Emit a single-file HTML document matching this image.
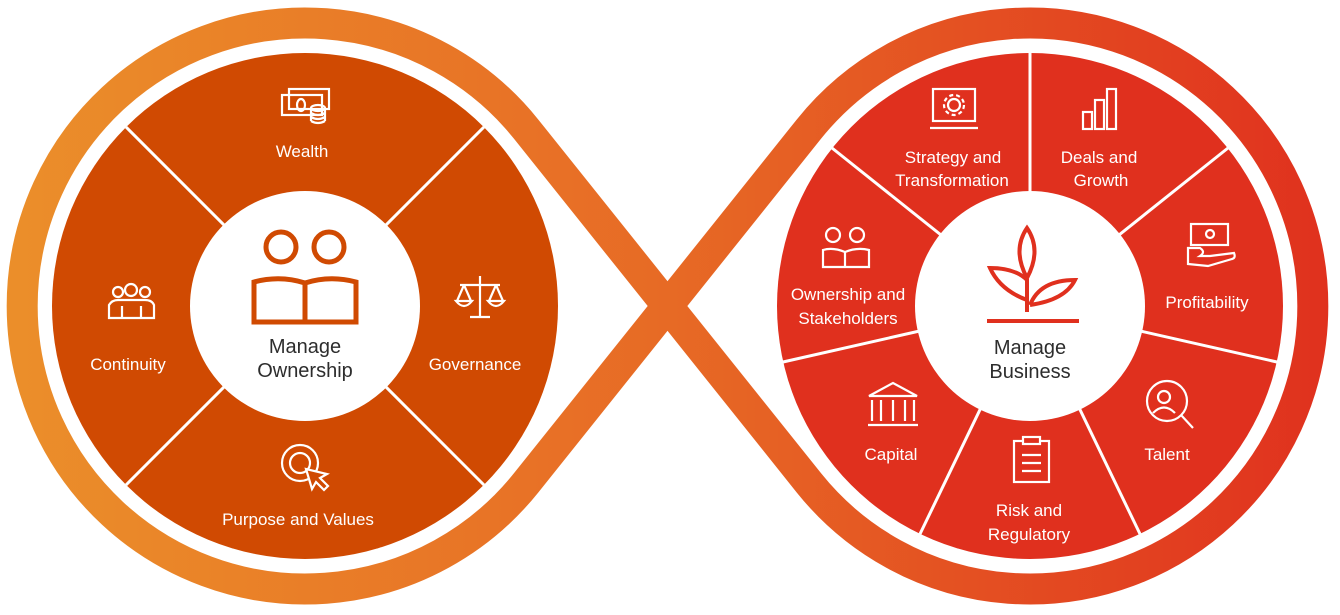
<!DOCTYPE html>
<html><head><meta charset="utf-8"><style>
html,body{margin:0;padding:0;background:#fff;}
svg{display:block;}
text{font-family:"Liberation Sans",Arial,sans-serif;}
.w{fill:#fff;font-size:17px;text-anchor:middle;}
.c{fill:#2d2d2d;font-size:20px;text-anchor:middle;}
.i{fill:none;stroke:#fff;stroke-width:2.2;}
</style></head><body>
<svg width="1340" height="615" viewBox="0 0 1340 615" xmlns="http://www.w3.org/2000/svg">
<defs>
<linearGradient id="g" gradientUnits="userSpaceOnUse" x1="0" y1="0" x2="1340" y2="0">
<stop offset="0" stop-color="#EB8F2A"/><stop offset="0.5" stop-color="#E76A25"/><stop offset="1" stop-color="#E0301E"/>
</linearGradient>
</defs>
<path d="M667.5 306 L526 129 A283 283 0 1 0 526 483 L809 129 A283 283 0 1 1 809 483 Z" fill="none" stroke="url(#g)" stroke-width="31" stroke-linejoin="round"/>
<!-- left disc -->
<circle cx="305" cy="306" r="253" fill="#D04A02"/>
<g stroke="#fff" stroke-width="3">
<line x1="126" y1="127" x2="484" y2="485"/>
<line x1="484" y1="127" x2="126" y2="485"/>
</g>
<circle cx="305" cy="306" r="115" fill="#fff"/>
<!-- right disc -->
<circle cx="1030" cy="306" r="253" fill="#E0301E"/>
<g stroke="#fff" stroke-width="3">
<line x1="1030" y1="306" x2="1030" y2="53"/>
<line x1="1030" y1="306" x2="1228" y2="148"/>
<line x1="1030" y1="306" x2="1277" y2="362"/>
<line x1="1030" y1="306" x2="1140" y2="534"/>
<line x1="1030" y1="306" x2="920" y2="534"/>
<line x1="1030" y1="306" x2="783" y2="362"/>
<line x1="1030" y1="306" x2="832" y2="148"/>
</g>
<circle cx="1030" cy="306" r="115" fill="#fff"/>

<!-- left center icon -->
<g fill="none" stroke="#D04A02" stroke-width="5">
<circle cx="281" cy="247" r="15"/><circle cx="329" cy="247" r="15"/>
<path d="M254 282 Q280 275 305 283 Q330 275 356 282 L356 322 L254 322 Z M305 283 L305 322"/>
</g>
<text class="c" x="305" y="353">Manage</text>
<text class="c" x="305" y="377">Ownership</text>

<!-- right center icon -->
<g fill="none" stroke="#E0301E" stroke-width="4">
<path d="M1027 228 Q1012 250 1027 278 Q1042 250 1027 228 Z"/>
<path d="M1027 312 L1027 280 Q1015 268 990 268 Q1000 290 1027 300"/>
<path d="M1030 305 Q1040 280 1075 280 Q1065 300 1030 305"/>
<line x1="987" y1="321" x2="1079" y2="321"/>
</g>
<text class="c" x="1030" y="354">Manage</text>
<text class="c" x="1030" y="378">Business</text>

<!-- left labels and icons -->
<g class="i"><rect x="289" y="89" width="40" height="20"/><rect x="282" y="95" width="40" height="20"/><ellipse cx="301" cy="105" rx="4" ry="6"/><ellipse cx="318" cy="108" rx="7" ry="3"/><path d="M311 108 V121 M325 108 V121 M311 113 Q318 117 325 113 M311 117 Q318 121 325 117 M311 121 Q318 125 325 121"/></g>
<text class="w" x="302" y="157">Wealth</text>
<g class="i"><circle cx="118" cy="292" r="5"/><circle cx="131" cy="290" r="6"/><circle cx="145" cy="292" r="5"/><path d="M109 318 V305 Q112 300 118 300 L145 300 Q152 300 154 305 V318 Z M122 318 V306 M141 318 V306"/></g>
<text class="w" x="128" y="370">Continuity</text>
<g class="i"><path d="M480 276 V317 M470 317 H490 M460 285 H500 M464 285 L457 301 M464 285 L471 301 M496 285 L489 301 M496 285 L503 301 M456 301 Q464 311 472 301 Z M488 301 Q496 311 504 301 Z"/></g>
<text class="w" x="475" y="370">Governance</text>
<g class="i"><circle cx="300" cy="463" r="18"/><circle cx="300" cy="463" r="10"/><path d="M306 469 L312 489 L316 482 L324 490 L328 486 L320 478 L327 474 Z" fill="#D04A02"/></g>
<text class="w" x="298" y="525">Purpose and Values</text>

<!-- right labels and icons -->
<g class="i"><rect x="933" y="89" width="42" height="32"/><path d="M930 128 H978"/><circle cx="954" cy="105" r="6"/><circle cx="954" cy="105" r="10" stroke-dasharray="4 3"/></g>
<text class="w" x="953" y="163">Strategy and</text>
<text class="w" x="952" y="186">Transformation</text>
<g class="i"><rect x="1083" y="112" width="9" height="17"/><rect x="1095" y="100" width="9" height="29"/><rect x="1107" y="89" width="9" height="40"/></g>
<text class="w" x="1099" y="163">Deals and</text>
<text class="w" x="1101" y="186">Growth</text>
<g class="i"><rect x="1191" y="224" width="37" height="21"/><circle cx="1210" cy="234" r="4"/><path d="M1188 248 H1200 Q1206 252 1200 256 H1210 L1234 253 Q1236 258 1232 259 L1208 266 L1188 264 Z"/></g>
<text class="w" x="1207" y="308">Profitability</text>
<g class="i"><circle cx="833" cy="235" r="7"/><circle cx="857" cy="235" r="7"/><path d="M823 250 Q833 247 845 252 Q857 247 869 250 V267 H823 Z M845 252 V267"/></g>
<text class="w" x="848" y="300">Ownership and</text>
<text class="w" x="848" y="324">Stakeholders</text>
<g class="i"><path d="M869 396 L893 383 L917 396 Z M872 400 V421 M881 400 V421 M893 400 V421 M905 400 V421 M914 400 V421 M868 425 H918"/></g>
<text class="w" x="891" y="460">Capital</text>
<g class="i"><circle cx="1167" cy="401" r="20"/><circle cx="1164" cy="397" r="6"/><path d="M1153 413 Q1164 402 1175 413 M1181 415 L1193 428"/></g>
<text class="w" x="1167" y="460">Talent</text>
<g class="i"><rect x="1014" y="441" width="35" height="41"/><rect x="1023" y="437" width="17" height="7" fill="#E0301E"/><path d="M1022 455 H1041 M1022 463 H1041 M1022 471 H1041"/></g>
<text class="w" x="1029" y="516">Risk and</text>
<text class="w" x="1029" y="540">Regulatory</text>
</svg>
</body></html>
